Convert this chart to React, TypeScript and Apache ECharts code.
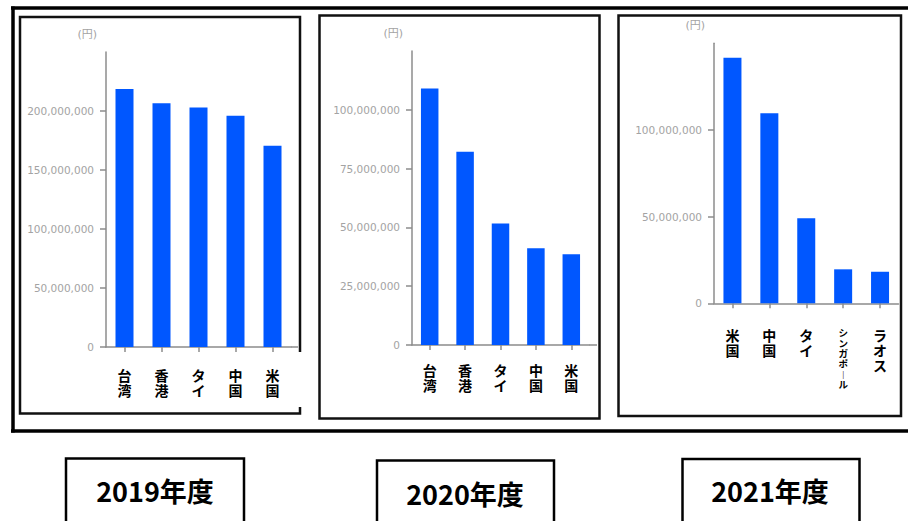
import React, { useEffect, useRef } from "react";
import * as echarts from "echarts";

const categories2019 = ["台湾", "香港", "タイ", "中国", "米国"];
const values2019 = [218600000, 206500000, 203000000, 196000000, 170600000];
const categories2020 = ["台湾", "香港", "タイ", "中国", "米国"];
const values2020 = [109100000, 82200000, 51700000, 41100000, 38600000];
const categories2021 = ["米国", "中国", "タイ", "シンガポール", "ラオス"];
const values2021 = [141600000, 109600000, 49000000, 19600000, 18200000];
const yearTitles = ["2019年度", "2020年度", "2021年度"];
const yMaxes = [250000000, 125000000, 150000000];
const yIntervals = [50000000, 25000000, 50000000];
const unitLabel = "(円)";

const BAR = "#0057ff";
const AXIS = "#8c8c8c";
const LABEL = "#a3a3a3";

const vertical = (s: string) =>
  s
    .split("")
    .map((c) => (c === "ー" ? "︱" : c))
    .join("\n");

export default function App() {
  const ref = useRef<HTMLDivElement>(null);
  useEffect(() => {
    if (!ref.current) return;
    const chart = echarts.init(ref.current, null, { renderer: "svg" });
    const grids = [
      { left: 106, top: 52, width: 185, height: 295 },
      { left: 412, top: 51, width: 177, height: 294 },
      { left: 714, top: 43.3, width: 184.5, height: 260 },
    ];
    const labelMargins = [20, 17, 24];
    const cats = [categories2019, categories2020, categories2021];
    const vals = [values2019, values2020, values2021];
    const barWidths = [18, 17.5, 18];

    const option: any = {
      animation: false,
      backgroundColor: "#ffffff",
      grid: grids.map((g) => ({ ...g, containLabel: false })),
      xAxis: cats.map((c, i) => ({
        type: "category",
        gridIndex: i,
        data: c,
        axisLine: { show: true, lineStyle: { color: AXIS, width: 1.5 } },
        axisTick: { show: true, alignWithLabel: true, length: 5, lineStyle: { color: AXIS, width: 1.5 } },
        axisLabel: {
          interval: 0,
          margin: labelMargins[i],
          color: "#000",
          fontSize: 14,
          fontWeight: "bold",
          fontFamily: "Noto Sans CJK JP",
          lineHeight: 15,
          verticalAlign: "top",
          formatter: (v: string) =>
            v.length > 3 ? "{s|" + vertical(v) + "}" : vertical(v),
          rich: {
            s: {
              fontSize: 9.5,
              lineHeight: 10.3,
              fontWeight: "bold",
              color: "#000",
              fontFamily: "Noto Sans CJK JP",
            },
          },
        },
        splitLine: { show: false },
      })),
      yAxis: cats.map((_, i) => ({
        type: "value",
        gridIndex: i,
        min: 0,
        max: yMaxes[i],
        interval: yIntervals[i],
        name: unitLabel,
        nameLocation: "end",
        nameGap: 12,
        nameTextStyle: {
          color: LABEL,
          fontSize: 11,
          fontFamily: "DejaVu Sans, Noto Sans CJK JP",
          align: "right",
          padding: [0, 9, 0, 0],
        },
        axisLine: { show: true, lineStyle: { color: AXIS, width: 1.5 } },
        axisTick: { show: true, length: 6, lineStyle: { color: AXIS, width: 1.5 } },
        axisLabel: {
          showMaxLabel: false,
          margin: 12,
          color: LABEL,
          fontSize: 10.5,
          fontFamily: "DejaVu Sans",
          formatter: (v: number) => v.toLocaleString("en-US"),
        },
        splitLine: { show: false },
      })),
      series: vals.map((v, i) => ({
        type: "bar",
        xAxisIndex: i,
        yAxisIndex: i,
        data: v,
        barWidth: barWidths[i],
        itemStyle: { color: BAR },
      })),
      graphic: [
        // outer frame
        { type: "line", z: 10, shape: { x1: 11, y1: 8, x2: 908, y2: 8 }, style: { stroke: "#000", lineWidth: 3.5 } },
        { type: "line", z: 10, shape: { x1: 13, y1: 6.5, x2: 13, y2: 432.5 }, style: { stroke: "#000", lineWidth: 3.5 } },
        { type: "line", z: 10, shape: { x1: 11, y1: 431, x2: 908, y2: 431 }, style: { stroke: "#000", lineWidth: 3.5 } },
        // panel frames
        { type: "rect", z: 10, shape: { x: 20, y: 17, width: 280, height: 396.5 }, style: { fill: "none", stroke: "#111", lineWidth: 2.5 } },
        { type: "rect", z: 11, shape: { x: 297, y: 352, width: 6, height: 55 }, style: { fill: "#fff", stroke: "none" } },
        { type: "rect", z: 10, shape: { x: 319.5, y: 15.5, width: 280, height: 403 }, style: { fill: "none", stroke: "#111", lineWidth: 2.5 } },
        { type: "rect", z: 10, shape: { x: 618.5, y: 15.5, width: 282.5, height: 400.5 }, style: { fill: "none", stroke: "#111", lineWidth: 2.5 } },
        // axis line extensions
        { type: "line", z: 5, shape: { x1: 291, y1: 347, x2: 298, y2: 347 }, style: { stroke: AXIS, lineWidth: 1.5 } },
        { type: "line", z: 5, shape: { x1: 589, y1: 345, x2: 597, y2: 345 }, style: { stroke: AXIS, lineWidth: 1.5 } },
        // title boxes
        { type: "rect", z: 10, shape: { x: 66, y: 458.5, width: 178, height: 80 }, style: { fill: "#fff", stroke: "#000", lineWidth: 2.5 } },
        { type: "rect", z: 10, shape: { x: 377, y: 460.5, width: 177, height: 80 }, style: { fill: "#fff", stroke: "#000", lineWidth: 2.5 } },
        { type: "rect", z: 10, shape: { x: 682.5, y: 459, width: 177, height: 80 }, style: { fill: "#fff", stroke: "#000", lineWidth: 2.5 } },
        ...yearTitles.map((t, i) => ({
          type: "text",
          z: 12,
          x: [155, 465, 770][i],
          y: [490, 493, 490][i],
          style: {
            text: t,
            fill: "#000",
            fontSize: 27,
            fontWeight: "bold",
            fontFamily: "Noto Sans CJK JP",
            align: "center",
            verticalAlign: "middle",
          },
        })),
      ],
    };
    chart.setOption(option);
    return () => chart.dispose();
  }, []);
  return (
    <div
      ref={ref}
      style={{ position: "fixed", left: 0, top: 0, width: 908, height: 521, background: "#fff" }}
    />
  );
}
